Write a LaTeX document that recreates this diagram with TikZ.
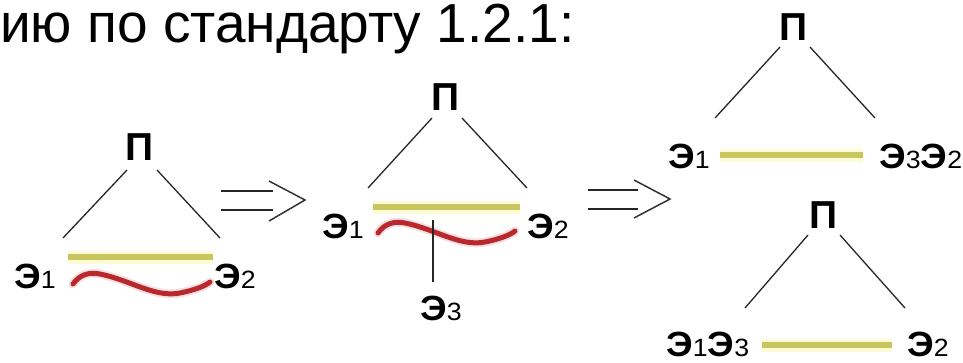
\documentclass[tikz,border=0pt]{standalone}
\usepackage{fontspec}
\setmainfont{Liberation Sans}
\newfontfamily\lblfont[FakeStretch=1.07]{Liberation Sans}
\definecolor{yelc}{RGB}{200,198,95}
\definecolor{yelhalo}{RGB}{252,250,215}
\definecolor{redc}{RGB}{185,40,45}
\definecolor{redhalo}{RGB}{245,225,228}
\newcommand\EE[1]{{\lblfont\bfseries\fontsize{35}{35}\selectfont Э}{\lblfont\fontsize{25}{25}\selectfont #1}}
\tikzset{
  tri/.style={line width=1.3pt, draw=black!85},
  yelline/.style={line width=6pt, draw=yelc},
  yelglow/.style={line width=13pt, draw=yelhalo},
  wave/.style={line width=5pt, draw=redc, line cap=round},
  waveglow/.style={line width=9pt, draw=redhalo, line cap=round},
  dbl/.style={line width=1.8pt, draw=black!85},
  headl/.style={line width=1.5pt, draw=black!80},
  lbl/.style={inner sep=0pt, anchor=base west},
  ptop/.style={inner sep=0pt, anchor=base, font=\bfseries\fontsize{39}{39}\selectfont},
  title/.style={inner sep=0pt, anchor=base west, font=\fontsize{55}{55}\selectfont}
}
\begin{document}
\begin{tikzpicture}[x=1pt,y=-1pt]
\useasboundingbox (0,0) rectangle (963,362);
\node[title] (ttl) at (0,42) {ию по стандарту 1.2.1:};

% ---------- diagram 1 ----------
\node[ptop] (p1) at (140,160) {П};
\coordinate (p1l) at (127,170); \coordinate (p1r) at (157,170);
\coordinate (a1l) at (63,238);  \coordinate (a1r) at (220,238);
\draw[tri] (p1l) -- (a1l);
\draw[tri] (p1r) -- (a1r);
\coordinate (y1a) at (68,257); \coordinate (y1b) at (213,257);
\draw[yelglow] (y1a) -- (y1b);
\draw[yelline] (y1a) -- (y1b);
\coordinate (w1a) at (73,284); \coordinate (w1b) at (210,282);
\draw[waveglow] (w1a) .. controls (80,274) and (90,272) .. (100,274) .. controls (130,280) and (155,298) .. (180,293) .. controls (195,290) and (205,286) .. (w1b);
\draw[wave] (w1a) .. controls (80,274) and (90,272) .. (100,274) .. controls (130,280) and (155,298) .. (180,293) .. controls (195,290) and (205,286) .. (w1b);
\node[lbl] (e11) at (14,288) {\EE{1}};
\node[lbl] (e12) at (214,288) {\EE{2}};

% ---------- arrow 1 ----------
\coordinate (r1a) at (221,191); \coordinate (r1b) at (273,191);
\coordinate (r1c) at (221,210); \coordinate (r1d) at (273,210);
\coordinate (h1t) at (269,181); \coordinate (h1m) at (305,200); \coordinate (h1b) at (269,221);
\draw[dbl] (r1a) -- (r1b);
\draw[dbl] (r1c) -- (r1d);
\draw[headl] (h1t) -- (h1m) -- (h1b);

% ---------- diagram 2 ----------
\node[ptop] (p2) at (446,110) {П};
\coordinate (p2l) at (432,118); \coordinate (p2r) at (462,118);
\coordinate (a2l) at (368,188); \coordinate (a2r) at (527,188);
\draw[tri] (p2l) -- (a2l);
\draw[tri] (p2r) -- (a2r);
\coordinate (y2a) at (373,207); \coordinate (y2b) at (520,207);
\draw[yelglow] (y2a) -- (y2b);
\draw[yelline] (y2a) -- (y2b);
\begin{scope}[shift={(305,-51)}]
\coordinate (w2a) at (73,284); \coordinate (w2b) at (210,282);
\draw[waveglow] (w2a) .. controls (80,274) and (90,272) .. (100,274) .. controls (130,280) and (155,298) .. (180,293) .. controls (195,290) and (205,286) .. (w2b);
\draw[wave] (w2a) .. controls (80,274) and (90,272) .. (100,274) .. controls (130,280) and (155,298) .. (180,293) .. controls (195,290) and (205,286) .. (w2b);
\end{scope}
\coordinate (v2a) at (433,220); \coordinate (v2b) at (433,282);
\draw[tri, line width=1.8pt] (v2a) -- (v2b);
\node[lbl] (e21) at (322,238) {\EE{1}};
\node[lbl] (e22) at (527,238) {\EE{2}};
\node[lbl] (e23) at (420,320) {\EE{3}};

% ---------- arrow 2 ----------
\coordinate (r2a) at (588,190); \coordinate (r2b) at (638,190);
\coordinate (r2c) at (588,209); \coordinate (r2d) at (638,209);
\coordinate (h2t) at (634,180); \coordinate (h2m) at (670,199); \coordinate (h2b) at (634,218);
\draw[dbl] (r2a) -- (r2b);
\draw[dbl] (r2c) -- (r2d);
\draw[headl] (h2t) -- (h2m) -- (h2b);

% ---------- diagram 3 top ----------
\node[ptop] (p3) at (794,40) {П};
\coordinate (p3l) at (780,47); \coordinate (p3r) at (810,47);
\coordinate (a3l) at (715,118); \coordinate (a3r) at (875,118);
\draw[tri] (p3l) -- (a3l);
\draw[tri] (p3r) -- (a3r);
\coordinate (y3a) at (720,155); \coordinate (y3b) at (863,155);
\draw[yelglow] (y3a) -- (y3b);
\draw[yelline] (y3a) -- (y3b);
\node[lbl] (e31) at (668,168) {\EE{1}};
\node[lbl] (e32) at (879,168) {\EE{3}\EE{2}};

% ---------- diagram 3 bottom ----------
\node[ptop] (p4) at (824,228) {П};
\coordinate (p4l) at (808,235); \coordinate (p4r) at (840,235);
\coordinate (a4l) at (745,308); \coordinate (a4r) at (905,308);
\draw[tri] (p4l) -- (a4l);
\draw[tri] (p4r) -- (a4r);
\coordinate (y4a) at (762,345); \coordinate (y4b) at (892,345);
\draw[yelglow] (y4a) -- (y4b);
\draw[yelline] (y4a) -- (y4b);
\node[lbl] (e41) at (666,356) {\EE{1}\EE{3}};
\node[lbl] (e42) at (907,356) {\EE{2}};
\end{tikzpicture}
\end{document}
